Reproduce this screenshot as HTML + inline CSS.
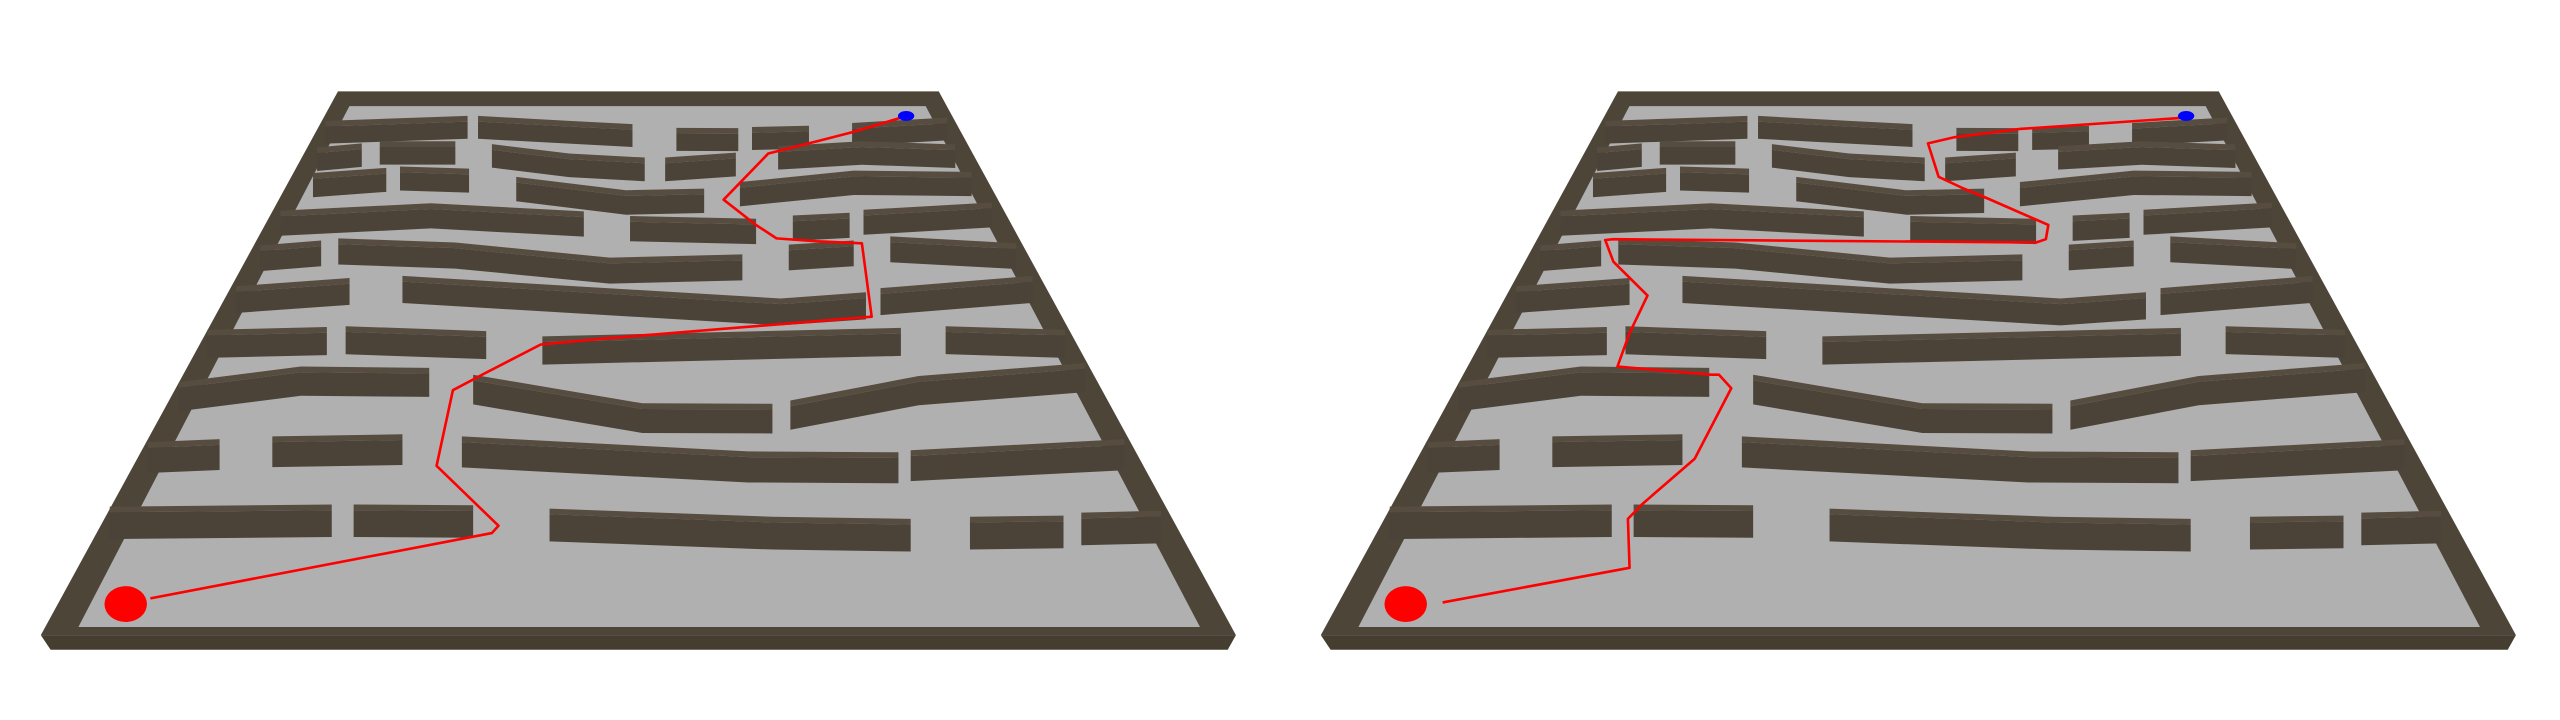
<!DOCTYPE html>
<html><head><meta charset="utf-8"><style>
html,body{margin:0;padding:0;background:#fff;}
svg{display:block;}
</style></head><body>
<svg id="scene" width="2560" height="720" viewBox="0 0 1568 441" preserveAspectRatio="none" xmlns="http://www.w3.org/2000/svg">
<rect width="1568" height="441" fill="#ffffff"/>
</svg>
<script>
// Wall polylines (in zoom-crop coordinates, converted to view coordinates)
const wallRows = [
 [[[400,100],[575,88]],[[588,88],[700,100],[778,108]],[[832,117],[908,118]],[[925,115],[995,112]],[[1048,105],[1165,92]]],
 [[[390,165],[445,155]],[[467,150],[560,150]],[[605,157],[700,180],[793,190]],[[818,190],[905,178]],[[957,162],[1060,150],[1175,158]]],
 [[[385,228],[475,215]],[[492,212],[577,217]],[[635,237],[770,270],[866,266]],[[910,250],[1050,222],[1195,225]]],
 [[[345,320],[530,302],[718,322]],[[775,333],[930,340]],[[975,332],[1045,325]],[[1062,318],[1220,300]]],
 [[[320,405],[395,393]],[[416,388],[560,398],[750,435],[913,427]],[[970,403],[1050,393]],[[1095,383],[1250,400]]],
 [[[290,505],[430,485]],[[495,480],[960,535],[1065,520]],[[1083,510],[1270,480]]],
 [[[255,612],[402,605]],[[425,603],[598,615]],[[667,628],[1108,607]],[[1163,603],[1310,612]]],
 [[[220,740],[370,702],[528,705]],[[582,722],[790,792],[950,793]],[[972,785],[1130,725],[1335,693]]],
 [[[182,887],[270,880]],[[335,873],[495,868]],[[568,873],[920,910],[1105,912]],[[1120,907],[1383,880]]],
 [[[135,1045],[408,1040]],[[435,1040],[582,1042]],[[676,1050],[950,1070],[1120,1075]],[[1193,1070],[1308,1067]],[[1330,1060],[1428,1055]]]
];
const pathLeft = [[185,1270],[605,1110],[613,1092],[537,945],[557,760],[595,720],[665,648],[745,633],[1072,580],[1060,400],[1005,395],[955,388],[930,355],[890,293],[945,180],[1005,150],[1048,128],[1112,90]];
const pathRight = [[200,1280],[430,1195],[428,1075],[445,1040],[510,928],[555,755],[540,722],[530,722],[415,702],[430,620],[452,528],[410,445],[400,392],[410,390],[600,393],[930,398],[942,390],[945,355],[870,290],[840,265],[810,237],[797,155],[830,140],[910,120],[1115,92]];
const offsets = [0, 784];

const NS = 'http://www.w3.org/2000/svg';
const svg = document.getElementById('scene');
function cx(x){return x*0.498;}
function cy(y){return y*0.25+49;}
function mk(tag, attrs, parent){const e=document.createElementNS(NS,tag);for(const k in attrs)e.setAttribute(k,attrs[k]);(parent||svg).appendChild(e);return e;}
function pts(a){return a.map(p=>p[0].toFixed(1)+','+p[1].toFixed(1)).join(' ');}

offsets.forEach((ox, mi) => {
  const g = mk('g',{});
  
  
  const frame = mk('polygon',{points:pts([[207+ox,56],[575+ox,56],[757+ox,389],[25+ox,389]]),fill:'#4d4538'},g);
  
  
  const front = mk('polygon',{points:pts([[25+ox,389],[757+ox,389],[752+ox,398],[31+ox,398]]),fill:'#463d31'},g);
  
  
  const floor = mk('polygon',{points:pts([[214+ox,65],[567+ox,65],[735+ox,384],[48+ox,384]]),fill:'#b0b0b0'},g);
  
  
  wallRows.forEach((row) => {
    row.forEach((w) => {
      const top = w.map(p=>[cx(p[0])+ox, cy(p[1])]);
      const avgY = top.reduce((s,p)=>s+p[1],0)/top.length;
      const h = 10.5 + (avgY-73)*0.025;
      const t = 3.5;
      const wg = mk('g',{},g);
      
      
      const fr = top.map(p=>[p[0],p[1]+t]).concat(top.slice().reverse().map(p=>[p[0],p[1]+t+h]));
      mk('polygon',{points:pts(fr),fill:'#4b4337'},wg);
      const tp = top.concat(top.slice().reverse().map(p=>[p[0],p[1]+t]));
      mk('polygon',{points:pts(tp),fill:'#574c40'},wg);
    });
  });
  const path = mi===0 ? pathLeft : pathRight;
  const pl = mk('polyline',{points:pts(path.map(p=>[cx(p[0])+ox, cy(p[1])])),fill:'none',stroke:'#ff0000','stroke-width':'1.6','stroke-linejoin':'round'},g);
  
  
  const st = mk('ellipse',{cx:77+ox,cy:370,rx:13,ry:11,fill:'#ff0000'},g);
  
  
  const gl = mk('ellipse',{cx:555+ox,cy:71,rx:5,ry:3,fill:'#0000ff'},g);
  
  
});
</script>
</body></html>
